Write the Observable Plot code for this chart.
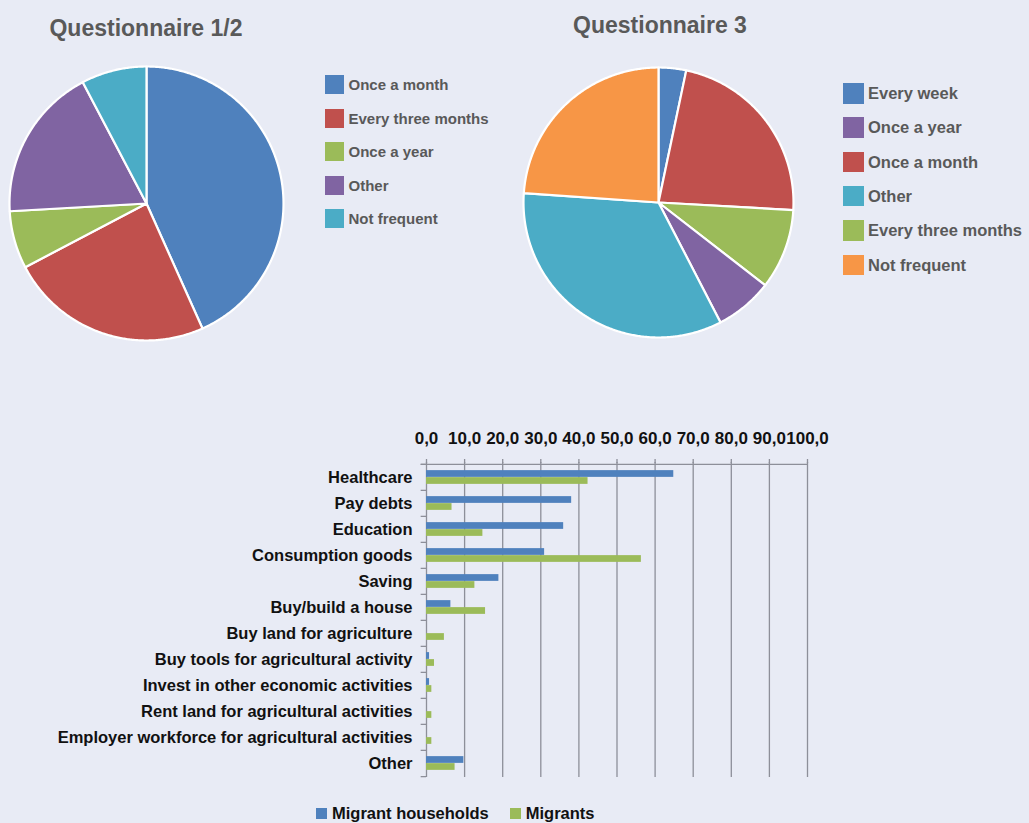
<!DOCTYPE html>
<html>
<head>
<meta charset="utf-8">
<script src="https://cdn.jsdelivr.net/npm/d3@7"></script>
<script src="https://cdn.jsdelivr.net/npm/@observablehq/plot@0.6"></script>
<style>
html, body { margin:0; padding:0; background:#e8ebf5; }
#root { position:relative; width:1029px; height:823px; overflow:hidden; background:#e8ebf5;
  font-family:"Liberation Sans", Arial, sans-serif; font-weight:bold; }
.title { position:absolute; font-size:23px; line-height:1; color:#595959; white-space:nowrap; text-align:center; width:300px; }
.legend { position:absolute; color:#595959; }
.legend .row { position:absolute; left:0; display:flex; align-items:center; white-space:nowrap; line-height:1; }
.legend .sw { display:inline-block; flex:none; }
.chart { position:absolute; }
#bottom-legend { position:absolute; left:316px; top:805px; font-size:16.5px; line-height:1; color:#111; display:flex; align-items:center; white-space:nowrap; }
#bottom-legend .sw { display:inline-block; width:11px; height:11px; margin-right:5px; }
#bottom-legend .item { display:flex; align-items:center; margin-right:21px; }
</style>
</head>
<body>
<div id="root">
  <div class="title" style="left:-4px; top:16.5px;">Questionnaire 1/2</div>
  <div class="title" style="left:510px; top:13.8px;">Questionnaire 3</div>
  <div class="chart" id="pie1" style="left:6px; top:63px;"></div>
  <div class="chart" id="pie2" style="left:520px; top:64px;"></div>
  <div class="legend" id="leg1" style="left:325px; top:75px;"></div>
  <div class="legend" id="leg2" style="left:843px; top:83px;"></div>
  <div class="chart" id="bars" style="left:0px; top:410px;"></div>
  <div id="bottom-legend"></div>
</div>
<script>
// ---------- Data ----------
const pie1Labels = ["Once a month", "Every three months", "Once a year", "Other", "Not frequent"];
const pie1Values = [43.3, 24.0, 6.8, 18.2, 7.7];
const pie1Colors = ["#4F81BD", "#C0504D", "#9BBB59", "#8064A2", "#4BACC6"];

const pie2Labels = ["Every week", "Once a month", "Every three months", "Once a year", "Other", "Not frequent"];
const pie2Values = [3.3, 22.6, 9.6, 6.9, 33.7, 23.9];
const pie2Colors = ["#4F81BD", "#C0504D", "#9BBB59", "#8064A2", "#4BACC6", "#F79646"];
const pie2LegendOrder = ["Every week", "Once a year", "Once a month", "Other", "Every three months", "Not frequent"];

const categories = [
  "Healthcare", "Pay debts", "Education", "Consumption goods", "Saving", "Buy/build a house",
  "Buy land for agriculture", "Buy tools for agricultural activity", "Invest in other economic activities",
  "Rent land for agricultural activities", "Employer workforce for agricultural activities", "Other"
];
const householdValues = [64.9, 38.1, 36.0, 31.0, 19.0, 6.4, 0.0, 0.8, 0.8, 0.0, 0.0, 9.8];
const migrantValues   = [42.4, 6.7, 14.8, 56.4, 12.7, 15.5, 4.7, 2.1, 1.4, 1.4, 1.4, 7.5];
const seriesNames = ["Migrant households", "Migrants"];
const seriesColors = ["#4F81BD", "#9BBB59"];
const xTicks = [0, 10, 20, 30, 40, 50, 60, 70, 80, 90, 100];

// ---------- Pies ----------
function pieChart(labels, values, colors, radius) {
  const arcs = d3.pie().sort(null).value(d => d)(values);
  const features = arcs.map((a, i) => {
    const n = Math.max(2, Math.ceil((a.endAngle - a.startAngle) / (Math.PI / 360)));
    const ring = [[0, 0]];
    for (let k = 0; k <= n; k++) {
      const t = a.startAngle + (a.endAngle - a.startAngle) * k / n;
      ring.push([Math.sin(t), -Math.cos(t)]);
    }
    ring.push([0, 0]);
    return {type: "Feature", properties: {label: labels[i]}, geometry: {type: "Polygon", coordinates: [ring]}};
  });
  const m = 3;
  return Plot.plot({
    width: 2 * radius + 2 * m, height: 2 * radius + 2 * m, margin: m,
    style: {background: "transparent", overflow: "visible"},
    projection: {type: "identity", domain: {type: "MultiPoint", coordinates: [[-1, -1], [1, 1]]}},
    color: {domain: labels, range: colors},
    marks: [
      Plot.geo(features, {fill: d => d.properties.label, stroke: "white", strokeWidth: 2.2, strokeLinejoin: "round"})
    ]
  });
}
document.getElementById("pie1").append(pieChart(pie1Labels, pie1Values, pie1Colors, 137));
document.getElementById("pie2").append(pieChart(pie2Labels, pie2Values, pie2Colors, 135));

function buildLegend(el, order, labels, colors, sw, step, fontSize, gap) {
  order.forEach((lab, i) => {
    const row = document.createElement("div");
    row.className = "row";
    row.style.top = (i * step) + "px";
    row.style.height = sw + "px";
    row.style.fontSize = fontSize + "px";
    const s = document.createElement("span");
    s.className = "sw";
    s.style.width = sw + "px"; s.style.height = sw + "px";
    s.style.marginRight = gap + "px";
    s.style.background = colors[labels.indexOf(lab)];
    const t = document.createElement("span");
    t.textContent = lab;
    row.append(s, t);
    el.append(row);
  });
}
buildLegend(document.getElementById("leg1"), pie1Labels, pie1Labels, pie1Colors, 19, 33.5, 15, 4.5);
buildLegend(document.getElementById("leg2"), pie2LegendOrder, pie2Labels, pie2Colors, 20.5, 34.3, 16.5, 4.5);

// ---------- Bars ----------
const rows = categories.flatMap((c, i) => [
  {category: c, series: seriesNames[0], value: householdValues[i]},
  {category: c, series: seriesNames[1], value: migrantValues[i]}
]);
const W = 830, H = 380, mT = 52, mB = 13, mL = 426, mR = 23;
const bw = (H - mT - mB) / categories.length;
const barH = 7;
const grid = "#8d8f99";
const fmt = d => d.toFixed(1).replace(".", ",");

const bars = Plot.plot({
  width: W, height: H, marginTop: mT, marginBottom: mB, marginLeft: mL, marginRight: mR,
  style: {background: "transparent", overflow: "visible", fontFamily: "'Liberation Sans', Arial, sans-serif",
          fontWeight: "bold", fontSize: "16.5px", color: "#111"},
  x: {domain: [0, 100]},
  y: {domain: categories, padding: 0},
  color: {domain: seriesNames, range: seriesColors},
  marks: [
    Plot.gridX(xTicks, {stroke: grid, strokeOpacity: 1, strokeWidth: 1.3}),
    Plot.ruleY([categories[0]], {x1: -1.4, x2: 100, dy: -bw / 2, stroke: grid, strokeWidth: 1.3}),
    Plot.ruleY(categories, {x1: -1.4, x2: 0, dy: -bw / 2, stroke: grid, strokeWidth: 1.3}),
    Plot.ruleY([categories[categories.length - 1]], {x1: -1.4, x2: 0, dy: bw / 2, stroke: grid, strokeWidth: 1.3}),
    Plot.barX(rows.filter(d => d.series === seriesNames[0]),
      {x: "value", y: "category", fill: "series", insetTop: bw / 2 - barH, insetBottom: bw / 2}),
    Plot.barX(rows.filter(d => d.series === seriesNames[1]),
      {x: "value", y: "category", fill: "series", insetTop: bw / 2, insetBottom: bw / 2 - barH}),
    Plot.axisX(xTicks, {anchor: "top", tickSize: 4, tickPadding: 15, tickFormat: fmt, stroke: grid, strokeWidth: 1.3, label: null, fontSize: 17}),
    Plot.axisY({anchor: "left", tickSize: 0, tickPadding: 14, label: null})
  ]
});
document.getElementById("bars").append(bars);

// bottom legend
const bl = document.getElementById("bottom-legend");
seriesNames.forEach((n, i) => {
  const it = document.createElement("span");
  it.className = "item";
  const s = document.createElement("span");
  s.className = "sw"; s.style.background = seriesColors[i];
  const t = document.createElement("span"); t.textContent = n;
  it.append(s, t);
  bl.append(it);
});
</script>
</body>
</html>
